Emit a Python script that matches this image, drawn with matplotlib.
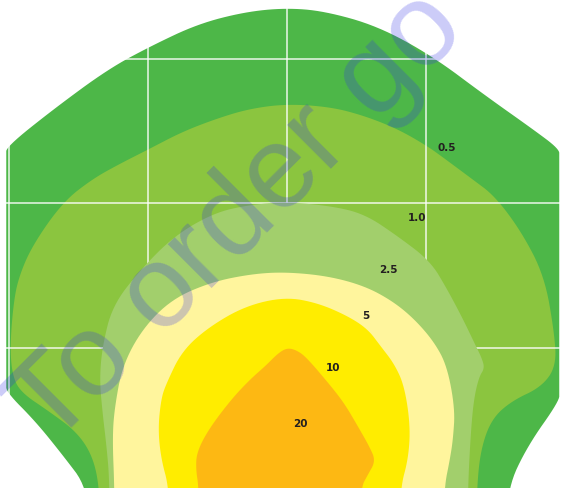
import numpy as np
import matplotlib.pyplot as plt

# isolux zones, outlines in metres (x across, y away from the lamp)
levels = ["0.5", "1.0", "2.5", "5", "10", "20"]
colors = ["#4db748", "#8bc53f", "#a2cf6c", "#fff59d", "#ffed00", "#fdb813"]

zone05_x = [-1.436, -1.436, -1.621, -1.814, -2.021, -2.021, -2.021, -2.021, -1.679, -1.286,
            -0.979, -0.643, -0.307, -0.014, 0.264, 0.65, 1.043, 1.429, 1.764, 1.957,
            1.957, 1.957, 1.957, 1.729, 1.586, 1.586]
zone05_y = [-0.3, 0.031, 0.266, 0.495, 0.696, 0.76, 2.33, 2.391, 2.654, 2.931,
            3.09, 3.242, 3.325, 3.353, 3.332, 3.228, 3.021, 2.744, 2.516, 2.377,
            2.32, 0.70, 0.633, 0.322, 0.031, -0.3]

zone10_x = [-1.35, -1.35, -1.4, -1.514, -1.707, -1.921, -1.979, -1.993, -1.971, -1.936,
            -1.836, -1.614, -1.4, -1.207, -0.993, -0.757, -0.514, -0.279, -0.007, 0.314,
            0.557, 0.793, 1.007, 1.136, 1.329, 1.493, 1.686, 1.85, 1.921, 1.936,
            1.829, 1.614, 1.471, 1.393, 1.364, 1.364]
zone10_y = [-0.3, 0.031, 0.253, 0.419, 0.557, 0.696, 0.82, 1.014, 1.291, 1.478,
            1.706, 2.01, 2.17, 2.273, 2.377, 2.495, 2.585, 2.654, 2.689, 2.668,
            2.606, 2.516, 2.398, 2.308, 2.17, 2.052, 1.803, 1.498, 1.111, 0.875,
            0.73, 0.633, 0.509, 0.301, 0.031, -0.3]

zone25_x = [-1.279, -1.279, -1.3, -1.329, -1.35, -1.329, -1.257, -1.064, -0.814, -0.529,
            -0.279, -0.007, 0.314, 0.557, 0.793, 1.029, 1.15, 1.264, 1.35, 1.40,
            1.42, 1.38, 1.343, 1.321, 1.3, 1.3]
zone25_y = [-0.3, 0.093, 0.322, 0.557, 0.785, 1.014, 1.291, 1.533, 1.775, 1.934,
            1.99, 2.01, 1.983, 1.927, 1.775, 1.602, 1.408, 1.201, 1.028, 0.93,
            0.86, 0.80, 0.647, 0.419, 0.031, -0.3]

zone5_x = [-1.243, -1.243, -1.257, -1.243, -1.186, -1.043, -0.829, -0.543, -0.257, -0.014,
           0.293, 0.557, 0.757, 0.914, 1.057, 1.15, 1.207, 1.193, 1.171, 1.129, 1.129]
zone5_y = [-0.3, 0.031, 0.37, 0.578, 0.875, 1.131, 1.339, 1.457, 1.512, 1.526,
           1.498, 1.429, 1.325, 1.201, 1.042, 0.875, 0.578, 0.37, 0.232, 0.031, -0.3]

zone_10_x = [-0.85, -0.85, -0.907, -0.929, -0.907, -0.871, -0.757, -0.564, -0.3, -0.014,
             0.221, 0.436, 0.579, 0.671, 0.771, 0.843, 0.886, 0.871, 0.814, 0.814]
zone_10_y = [-0.3, 0.031, 0.232, 0.439, 0.647, 0.751, 0.979, 1.145, 1.291, 1.353,
             1.311, 1.221, 1.131, 1.014, 0.889, 0.737, 0.46, 0.232, 0.031, -0.3]

zone_20_x = [-0.636, -0.636, -0.657, -0.65, -0.564, -0.4, -0.264, -0.157, -0.064, 0.0,
             0.064, 0.136, 0.314, 0.414, 0.507, 0.593, 0.636, 0.579, 0.529, 0.529]
zone_20_y = [-0.3, 0.031, 0.163, 0.28, 0.439, 0.647, 0.785, 0.875, 0.965, 1.0,
             0.986, 0.938, 0.737, 0.612, 0.46, 0.315, 0.218, 0.121, 0.031, -0.3]

label_x = [1.15, 0.936, 0.729, 0.564, 0.329, 0.093]
label_y = [2.391, 1.907, 1.547, 1.228, 0.869, 0.481]

zones = [(zone05_x, zone05_y), (zone10_x, zone10_y), (zone25_x, zone25_y),
         (zone5_x, zone5_y), (zone_10_x, zone_10_y), (zone_20_x, zone_20_y)]


def chaikin(xs, ys, n=3):
    pts = np.column_stack([xs, ys]).astype(float)
    for _ in range(n):
        nxt = np.roll(pts, -1, axis=0)
        out = np.empty((2 * len(pts), 2))
        out[0::2] = 0.75 * pts + 0.25 * nxt
        out[1::2] = 0.25 * pts + 0.75 * nxt
        pts = out
    return pts[:, 0], pts[:, 1]


fig = plt.figure(figsize=(5.68, 4.89), dpi=100)
ax = fig.add_axes([0, 0, 1, 1])

for i, (zx, zy) in enumerate(zones):
    sx, sy = chaikin(zx, zy)
    ax.fill(sx, sy, color=colors[i], lw=0, zorder=1 + i)

for lab, lx, ly in zip(levels, label_x, label_y):
    ax.text(lx, ly, lab, ha="center", va="center", fontsize=7.5,
            fontweight="bold", color="#231f20", zorder=20)

ax.set_xlim(-2.066, 2.020)
ax.set_ylim(0.031, 3.415)
ax.set_xticks([-2, -1, 0, 1, 2])
ax.set_yticks([1, 2, 3])
ax.tick_params(length=0, labelbottom=False, labelleft=False)
for s in ax.spines.values():
    s.set_visible(False)
ax.set_axisbelow(False)
ax.grid(True, color="white", lw=1.3, alpha=0.75, zorder=10)

# watermark
ax.text(0.0907, 0.0808, "To order go", transform=ax.transAxes, rotation=45,
        rotation_mode="anchor", ha="left", va="baseline", fontsize=84,
        family="Liberation Sans", color=(0.2, 0.2, 0.9), alpha=0.25, zorder=30)

fig.savefig("out.png", dpi=100)
